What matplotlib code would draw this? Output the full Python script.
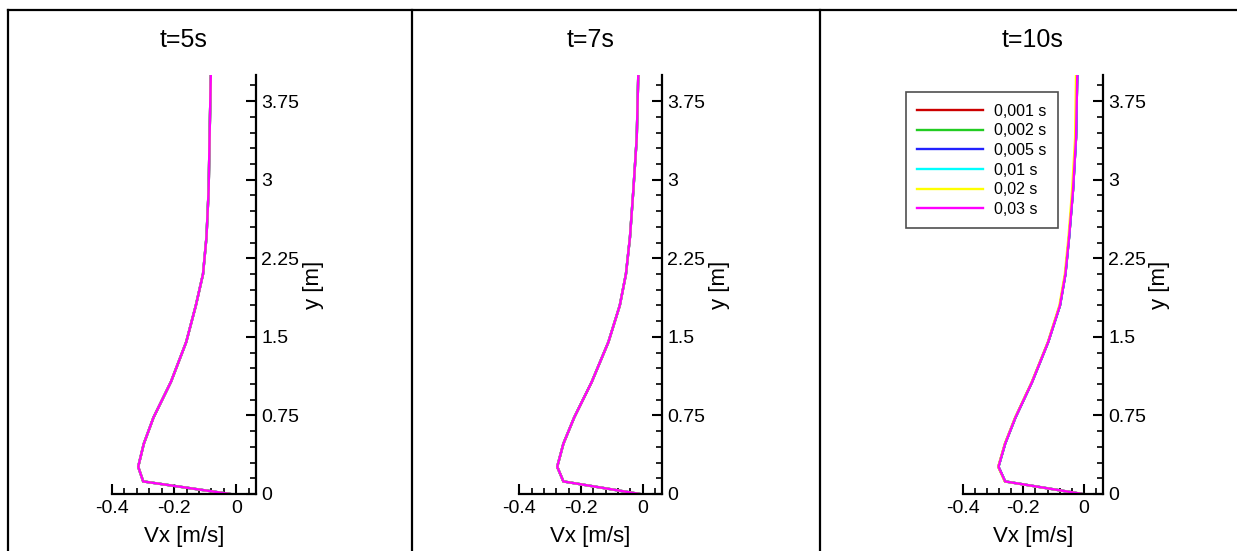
import numpy as np
import matplotlib
matplotlib.use("Agg")
import matplotlib.pyplot as plt
from matplotlib.lines import Line2D
from matplotlib.ticker import MultipleLocator

plt.rcParams['font.family'] = ['Liberation Sans', 'DejaVu Sans']
plt.rcParams['axes.unicode_minus'] = False

# profile heights [m], shared by all snapshots
y_pts = [0.0, 0.12, 0.26, 0.48, 0.73, 1.07, 1.45, 1.8, 2.1, 2.45, 2.9, 3.4, 4.0]

# Vx [m/s], per snapshot
vx_t5 = [-0.020, -0.299, -0.315, -0.297, -0.266, -0.210, -0.161, -0.130, -0.107, -0.096, -0.089, -0.086, -0.082]
vx_t7 = [-0.009, -0.257, -0.277, -0.257, -0.222, -0.165, -0.111, -0.074, -0.054, -0.041, -0.030, -0.019, -0.014]
vx_t10 = [-0.005, -0.260, -0.282, -0.260, -0.226, -0.171, -0.118, -0.079, -0.061, -0.049, -0.036, -0.026, -0.022]
vx_t10_002 = [-0.005, -0.261, -0.283, -0.261, -0.227, -0.172, -0.119, -0.081, -0.063, -0.051, -0.039, -0.029, -0.026]

titles = ['t=5s', 't=7s', 't=10s']
step_labels = ['0,001 s', '0,002 s', '0,005 s', '0,01 s', '0,02 s', '0,03 s']
step_colors = ['#cc0000', '#22cc22', '#2222ff', '#00ffff', '#ffff00', '#ff00ff']

y_ticks = [0, 0.75, 1.5, 2.25, 3, 3.75]
y_ticklabels = ['0', '0.75', '1.5', '2.25', '3', '3.75']
x_ticks = [-0.4, -0.2, 0]
x_ticklabels = ['-0.4', '-0.2', '0']

# series per panel: one list per time step
panel_series = [
    [vx_t5] * 6,
    [vx_t7] * 6,
    [vx_t10, vx_t10, vx_t10, vx_t10, vx_t10_002, vx_t10],
]

W, H = 1237, 551
fig = plt.figure(figsize=(W / 100, H / 100), dpi=100)

# axes boxes in pixels: left, right
boxes = [(111.7, 255.7), (519.3, 661.7), (962.7, 1102.7)]
ax_bottom, ax_top = 494, 75

for i, (l, r) in enumerate(boxes):
    ax = fig.add_axes([l / W, (H - ax_bottom) / H, (r - l) / W, (ax_bottom - ax_top) / H])
    for s, c, lab in zip(panel_series[i], step_colors, step_labels):
        ax.plot(s, y_pts, color=c, lw=1.7, label=lab)
    ax.set_xlim(-0.4, 0.062)
    ax.set_ylim(0, 4.0)

    for sp in ['top', 'left']:
        ax.spines[sp].set_visible(False)
    for sp in ['bottom', 'right']:
        ax.spines[sp].set_linewidth(1.6)

    ax.yaxis.tick_right()
    ax.yaxis.set_label_position('right')
    ax.set_yticks(y_ticks)
    ax.set_yticklabels(y_ticklabels)
    ax.set_xticks(x_ticks)
    ax.set_xticklabels(x_ticklabels)
    ax.xaxis.set_minor_locator(MultipleLocator(0.04))
    ax.yaxis.set_minor_locator(MultipleLocator(0.15))
    ax.tick_params(which='major', direction='in', length=7, width=1.5, labelsize=14)
    ax.tick_params(axis='x', which='major', pad=4)
    ax.tick_params(axis='y', which='major', pad=4)
    ax.tick_params(which='minor', direction='in', length=4, width=1.2)

    ax.set_xlabel('Vx [m/s]', fontsize=16, labelpad=7)
    ax.set_ylabel('y [m]', fontsize=16, rotation=90)
    ax.yaxis.set_label_coords(1.33, 0.5)
    ax.set_title(titles[i], fontsize=18, pad=20.5)

    if i == 2:
        leg = ax.legend(loc='upper left',
                        bbox_to_anchor=((905.7 - l) / (r - l), (ax_bottom - 92.3) / (ax_bottom - ax_top)),
                        fontsize=11.5, frameon=True, fancybox=False, handlelength=4.1,
                        labelspacing=0.29, borderpad=0.72, handletextpad=0.7, borderaxespad=0)
        leg.get_frame().set_edgecolor('#222222')
        leg.get_frame().set_linewidth(1.2)
        leg.set_zorder(5)

# panel frame lines
lw = 1.6
top_y = 1 - 9.5 / H
fig.add_artist(Line2D([8 / W, 1.0], [top_y, top_y], color='black', lw=lw))
for xp in [8, 412, 820]:
    fig.add_artist(Line2D([xp / W, xp / W], [0, top_y], color='black', lw=lw))

fig.savefig('out.png', dpi=100)
